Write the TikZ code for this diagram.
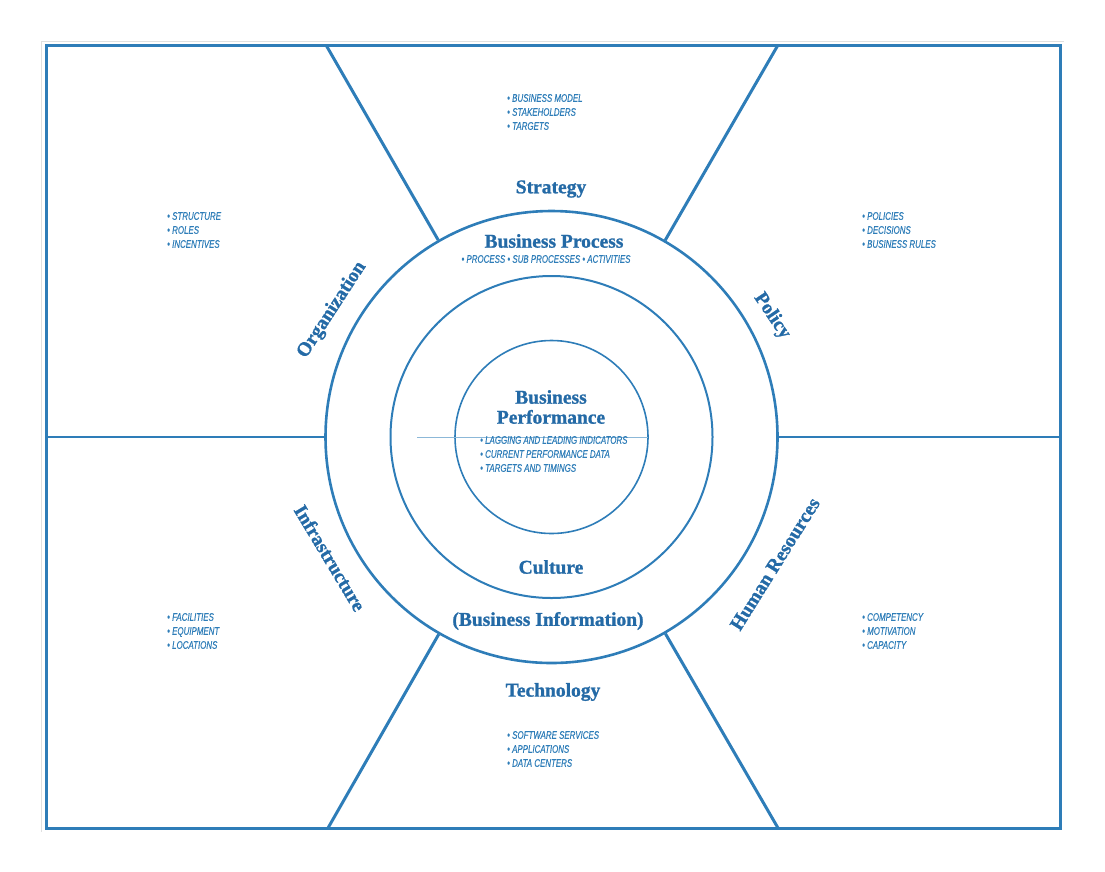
\documentclass[tikz,border=0pt]{standalone}
\usepackage{fontspec}
\setmainfont{Liberation Serif}
\newfontfamily\titlefont[FakeBold=1.2]{Liberation Serif}
\newfontfamily\listfont[FakeStretch=0.72,FakeBold=0.4]{Liberation Sans}
\definecolor{lineblue}{RGB}{46,125,184}
\definecolor{textblue}{RGB}{36,106,166}
\begin{document}
\begin{tikzpicture}[x=1pt,y=-1pt,
  frame/.style={draw=lineblue,line width=3pt},
  title/.style={text=textblue,font=\titlefont\bfseries\fontsize{19.5}{22}\selectfont,inner sep=0},
  items/.style={text=lineblue,font=\listfont\itshape\fontsize{11}{14}\selectfont,align=left,anchor=west,inner sep=0},
  ring/.style={circle,draw=lineblue,inner sep=0}]
\useasboundingbox (0,0) rectangle (1105,871);
% faint outer border
\coordinate (gb) at (41,832);
\coordinate (gc) at (41,41);
\coordinate (gr) at (1064,41);
\draw[black!12,line width=1pt] (gb) -- (gc) -- (gr);
% frame
\coordinate (f1) at (46,45);
\coordinate (f2) at (1060,828);
\draw[frame] (f1) rectangle (f2);
% circles
\coordinate (c) at (551.5,437);
\node[ring,minimum size=452pt,line width=2.6pt] (outer) at (c) {};
\node[ring,minimum size=322pt,line width=2pt] (middle) at (c) {};
\node[ring,minimum size=193pt,line width=1.6pt] (inner) at (c) {};
% spokes
\coordinate (tl) at (326,45);
\coordinate (tr) at (778,45);
\coordinate (bl) at (328,828);
\coordinate (br) at (778,828);
\coordinate (ml) at (46,437);
\coordinate (mr) at (1060,437);
\draw[frame] (tl) -- (outer);
\draw[frame] (tr) -- (outer);
\draw[frame] (bl) -- (outer);
\draw[frame] (br) -- (outer);
\draw[frame,line width=2.6pt] (ml) -- (outer);
\draw[frame,line width=2.6pt] (mr) -- (outer);
% faint line
\coordinate (fl) at (417,437);
\coordinate (fr) at (648,437);
\draw[lineblue!55,line width=0.7pt] (fl) -- (fr);
% titles
\node[title] (strategy) at (551,189) {Strategy};
\node[title] (bproc) at (554,241) {Business Process};
\node[items,anchor=center] (bprocitems) at (546,259) {• PROCESS • SUB PROCESSES • ACTIVITIES};
\node[title,align=center,font=\titlefont\bfseries\fontsize{19.5}{20}\selectfont] (bperf) at (551,407) {Business\\Performance};
\node[title] (culture) at (551,567) {Culture};
\node[title] (binfo) at (548,621) {(Business Information)};
\node[title] (tech) at (553,692) {Technology};
\node[title,rotate=57] (org) at (332,310) {Organization};
\node[title,rotate=-59] (infra) at (330,558) {Infrastructure};
\node[title,rotate=-56] (policy) at (772,316) {Policy};
\node[title,rotate=58] (hr) at (775,564) {Human Resources};
% item lists
\node[items] (perfitems) at (480,454) {• LAGGING AND LEADING INDICATORS\\• CURRENT PERFORMANCE DATA\\• TARGETS AND TIMINGS};
\node[items] (stratitems) at (507,112) {• BUSINESS MODEL\\• STAKEHOLDERS\\• TARGETS};
\node[items] (techitems) at (507,749) {• SOFTWARE SERVICES\\• APPLICATIONS\\• DATA CENTERS};
\node[items] (orgitems) at (167,230) {• STRUCTURE\\• ROLES\\• INCENTIVES};
\node[items] (polyitems) at (862,230) {• POLICIES\\• DECISIONS\\• BUSINESS RULES};
\node[items] (infraitems) at (167,631) {• FACILITIES\\• EQUIPMENT\\• LOCATIONS};
\node[items] (hritems) at (862,631) {• COMPETENCY\\• MOTIVATION\\• CAPACITY};
\end{tikzpicture}
\end{document}
